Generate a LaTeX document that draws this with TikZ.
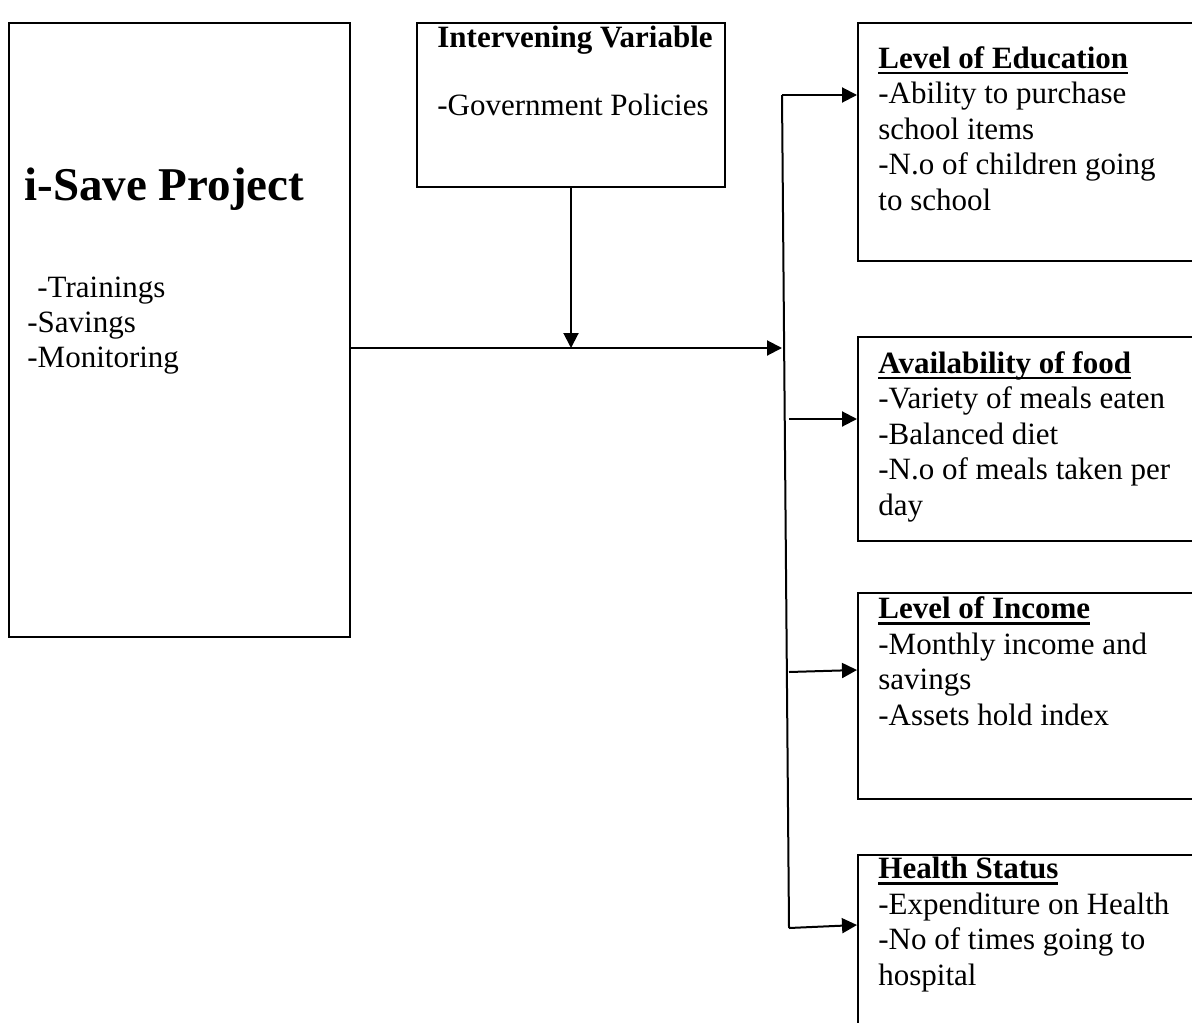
\documentclass[tikz,border=0pt]{standalone}
\usepackage{fontspec}
\setmainfont{Liberation Serif}
\usetikzlibrary{arrows.meta,calc}

% bold heading with a flat underline
\newcommand\ulhead[1]{\setbox0\hbox{\bfseries #1}\rlap{\rule[-3.2pt]{\wd0}{1.3pt}}\box0}

\tikzset{
  box/.style={draw, line width=1pt, anchor=north west, inner sep=0pt},
  txt/.style={inner sep=0pt, anchor=base west, align=left,
    font=\fontsize{15.5pt}{17.75pt}\selectfont},
  arr/.style={line width=1pt, -{Triangle[length=7.5pt,width=7.5pt]}}
}

\begin{document}
\begin{tikzpicture}[x=0.5pt,y=-0.5pt]
            \clip (0,0) rectangle (1192,1022);
            \fill[white] (0,0) rectangle (1192,1022);
            % boxes
            \node[box, minimum width=170.5pt, minimum height=307pt] (isave) at (8,22) {};
            \node[box, minimum width=154pt, minimum height=82pt] (interv) at (416,22) {};
            \node[box, minimum width=180pt, minimum height=119pt] (edu) at (857,22) {};
            \node[box, minimum width=180pt, minimum height=102pt] (food) at (857,336) {};
            \node[box, minimum width=180pt, minimum height=103pt] (income) at (857,592) {};
            \node[box, minimum width=180pt, minimum height=90pt] (health) at (857,854) {};
            % texts (anchored on the last line)
            \node[txt, font=\fontsize{23.5pt}{28pt}\selectfont\bfseries] (isavehead) at (24,200) {i-Save Project};
            \node[txt, font=\fontsize{15.5pt}{17.5pt}\selectfont] (isavelist) at (27,367) {\hspace{5pt}-Trainings\\-Savings\\-Monitoring};
            \node[txt] (intervtxt) at (437,115) {\textbf{Intervening Variable}\\[15.75pt]-Government Policies};
            \node[txt] (edutxt) at (878,210) {\ulhead{Level of Education}\\-Ability to purchase\\school items\\-N.o of children going\\to school};
            \node[txt] (foodtxt) at (878,515) {\ulhead{Availability of food}\\-Variety of meals eaten\\-Balanced diet\\-N.o of meals taken per\\day};
            \node[txt] (incometxt) at (878,725) {\ulhead{Level of Income}\\-Monthly income and\\savings\\-Assets hold index};
            \node[txt] (healthtxt) at (878,985) {\ulhead{Health Status}\\-Expenditure on Health\\-No of times going to\\hospital};
            % connectors
            \coordinate (join) at (782,348);
            \coordinate (bartop) at (782,95);
            \coordinate (barbot) at (789,928);
            \coordinate (foodin) at (789,419);
            \coordinate (incomein) at (789,672);
            \draw[arr] (isave.east |- join) -- (join);
            \draw[arr] (interv.south) -- (interv.south |- join);
            \draw[line width=1pt] (bartop) -- (barbot);
            \draw[arr] (bartop) -- (bartop -| edu.west);
            \draw[arr] (foodin) -- (foodin -| food.west);
            \draw[arr] (incomein) -- ($(income.west |- incomein)+(0,-2)$);
            \draw[arr] (barbot) -- ($(health.west |- barbot)+(0,-3)$);
\end{tikzpicture}
\end{document}
